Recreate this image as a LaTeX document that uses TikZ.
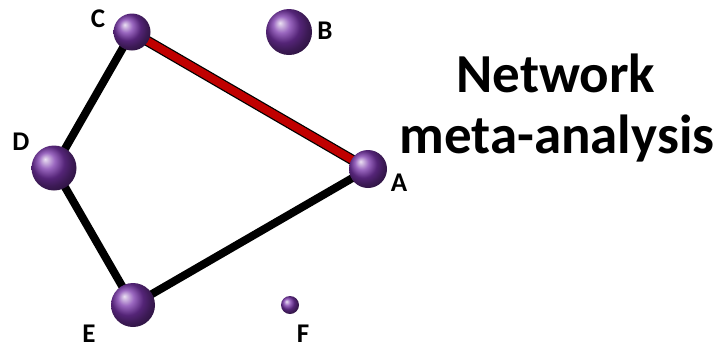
\documentclass[tikz,border=0pt]{standalone}
\usepackage{fontspec}
\setmainfont{Carlito}
\definecolor{ballpurple}{RGB}{120,52,170}
\definecolor{edgered}{RGB}{192,0,0}
\begin{document}
\begin{tikzpicture}[x=1pt,y=-1pt,
  ball/.style={circle,inner sep=0pt,shading=ball,ball color=ballpurple},
  lab/.style={font=\fontsize{27}{27}\selectfont\bfseries,inner sep=0pt},
  title/.style={font=\fontsize{55}{60}\selectfont\bfseries,inner sep=0pt,anchor=base},
  blackedge/.style={line width=8pt,black},
  rededge/.style={line width=10.5pt,draw=black},
  redfill/.style={line width=8pt,draw=edgered}]
\useasboundingbox (0,0) rectangle (719,341);
\clip (0,0) rectangle (719,341);
\coordinate (pA) at (368,169);
\coordinate (pB) at (289,32);
\coordinate (pC) at (132,32);
\coordinate (pD) at (54,168);
\coordinate (pE) at (133,305);
\coordinate (pF) at (290,305);
\draw[blackedge] (pC) -- (pD);
\draw[blackedge] (pD) -- (pE);
\draw[blackedge] (pE) -- (pA);
\draw[rededge] (pC) -- (pA);
\draw[redfill] (pC) -- (pA);
\node[ball,minimum size=38pt] (A) at (pA) {};
\node[ball,minimum size=46pt] (B) at (pB) {};
\node[ball,minimum size=37pt] (C) at (pC) {};
\node[ball,minimum size=45pt] (D) at (pD) {};
\node[ball,minimum size=44pt] (E) at (pE) {};
\node[ball,minimum size=18pt] (F) at (pF) {};
\node[lab] (lA) at (399,183) {A};
\node[lab] (lB) at (325,31) {B};
\node[lab] (lC) at (98,19) {C};
\node[lab] (lD) at (21,142) {D};
\node[lab] (lE) at (89,334) {E};
\node[lab] (lF) at (303,334) {F};
\node[title] (t1) at (556,92) {Network};
\node[title] (t2) at (557,153) {meta-analysis};
\end{tikzpicture}
\end{document}
